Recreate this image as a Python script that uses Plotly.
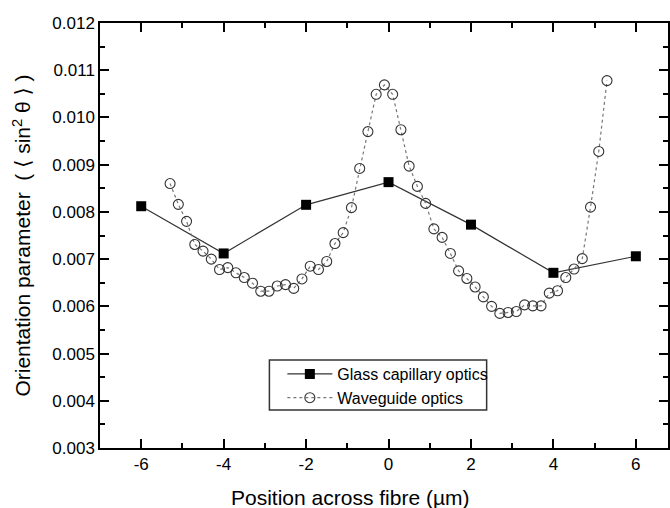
import plotly.graph_objects as go

glass_x = [-6, -4, -2, 0, 2, 4, 6]
glass_y = [0.00812, 0.00712, 0.00815, 0.00863, 0.00773, 0.00671, 0.00706]

wave_x = [-5.3, -5.1, -4.9, -4.7, -4.5, -4.3, -4.1, -3.9, -3.7, -3.5, -3.3, -3.1,
          -2.9, -2.7, -2.5, -2.3, -2.1, -1.9, -1.7, -1.5, -1.3, -1.1, -0.9, -0.7,
          -0.5, -0.3, -0.1, 0.1, 0.3, 0.5, 0.7, 0.9, 1.1, 1.3, 1.5, 1.7, 1.9, 2.1,
          2.3, 2.5, 2.7, 2.9, 3.1, 3.3, 3.5, 3.7, 3.9, 4.1, 4.3, 4.5, 4.7, 4.9,
          5.1, 5.3]
wave_y = [0.00860, 0.00816, 0.00780, 0.00731, 0.00717, 0.00700, 0.00678, 0.00682,
          0.00671, 0.00661, 0.00649, 0.00632, 0.00632, 0.00643, 0.00646, 0.00638,
          0.00658, 0.00685, 0.00678, 0.00695, 0.00733, 0.00756, 0.00809, 0.00892,
          0.00970, 0.01049, 0.01069, 0.01049, 0.00974, 0.00897, 0.00854, 0.00818,
          0.00764, 0.00746, 0.00712, 0.00675, 0.00659, 0.00641, 0.00620, 0.00600,
          0.00585, 0.00587, 0.00589, 0.00603, 0.00601, 0.00601, 0.00628, 0.00633,
          0.00661, 0.00679, 0.00701, 0.00810, 0.00928, 0.01078]

x_ticks = [-6, -4, -2, 0, 2, 4, 6]
y_ticks = [0.003, 0.004, 0.005, 0.006, 0.007, 0.008, 0.009, 0.010, 0.011, 0.012]

FONT = "Liberation Sans, Arial, sans-serif"
BR = "<span style='font-family:DejaVu Sans'>{}</span>"

fig = go.Figure()
fig.add_trace(go.Scatter(
    x=glass_x, y=glass_y, mode="lines+markers", name="Glass capillary optics",
    line=dict(color="#333333", width=1.2),
    marker=dict(symbol="square", size=10, color="black", line=dict(width=0)),
))
fig.add_trace(go.Scatter(
    x=wave_x, y=wave_y, mode="lines+markers", name="Waveguide optics",
    line=dict(color="#777777", width=1.2, dash="dot"),
    marker=dict(symbol="circle-open", size=10, color="#333333", line=dict(width=1.1)),
))

ytitle = ("Orientation parameter  ( " + BR.format("\u27e8") + " sin<sup>2</sup> \u03b8 "
          + BR.format("\u27e9") + " )")

fig.update_layout(
    width=670, height=508,
    margin=dict(l=100, r=0, t=23, b=60),
    paper_bgcolor="white", plot_bgcolor="white",
    font=dict(family=FONT, color="black", size=17),
    showlegend=True,
    legend=dict(
        x=(283 - 100) / 570, y=(448 - 357) / 425, xanchor="left", yanchor="top",
        borderwidth=0, bgcolor="rgba(0,0,0,0)",
        font=dict(size=16, family=FONT), tracegroupgap=0, itemwidth=45,
    ),
    shapes=[
        dict(type="rect", xref="paper", yref="paper", layer="above",
             x0=(270 - 100) / 570, x1=(488 - 100) / 570,
             y0=(448 - 410) / 425, y1=(448 - 360) / 425,
             line=dict(color="#333333", width=1.5), fillcolor="rgba(255,255,255,0)"),
    ],
    xaxis=dict(
        range=[-7, 6.78], tickmode="array", tickvals=x_ticks,
        ticktext=[str(v) for v in x_ticks],
        showgrid=False, zeroline=False, showline=True, linecolor="black",
        linewidth=1.5, mirror="allticks", ticks="inside", ticklen=9,
        tickwidth=1.5, tickcolor="black",
        minor=dict(dtick=1, tick0=0, ticks="inside", ticklen=5, tickwidth=1.5,
                   tickcolor="black", showgrid=False),
        tickfont=dict(size=17),
    ),
    yaxis=dict(
        range=[0.003, 0.012], tickmode="array", tickvals=y_ticks,
        ticktext=[f"{v:.3f}" for v in y_ticks],
        showgrid=False, zeroline=False, showline=True, linecolor="black",
        linewidth=1.5, mirror="allticks", ticks="inside", ticklen=9,
        tickwidth=1.5, tickcolor="black",
        minor=dict(dtick=0.0005, tick0=0.003, ticks="inside", ticklen=5,
                   tickwidth=1.5, tickcolor="black", showgrid=False),
        tickfont=dict(size=17),
    ),
    annotations=[
        dict(text="Position across fibre (\u00b5m)", xref="paper", yref="paper",
             x=0.441, y=-0.1154, xanchor="center", yanchor="middle",
             showarrow=False, font=dict(size=21, family=FONT)),
        dict(text=ytitle,
             xref="paper", yref="paper", x=-0.138, y=(448 - 236) / 425, textangle=-90,
             xanchor="center", yanchor="middle", showarrow=False,
             font=dict(size=21, family=FONT)),
    ],
)

fig.write_html("out.html", post_script="document.body.style.margin='0';",
               config={"displayModeBar": False})
